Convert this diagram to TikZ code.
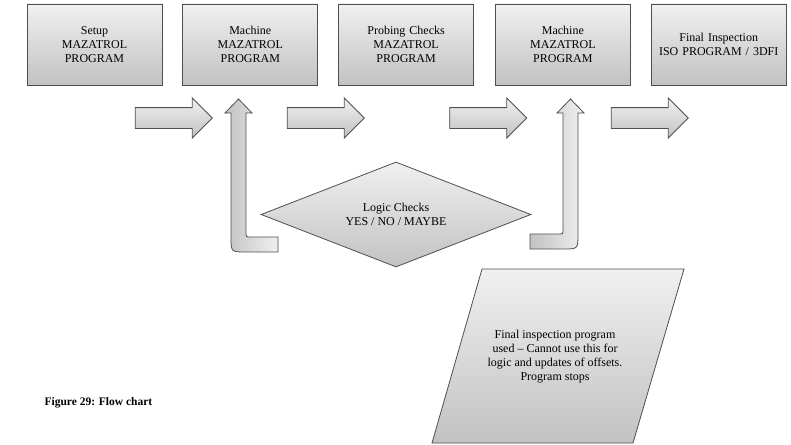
\documentclass[tikz,border=0pt]{standalone}
\usepackage{fontspec}
\setmainfont{Liberation Serif}
\usetikzlibrary{positioning,shapes.geometric,shapes.arrows}
\definecolor{edge}{HTML}{4F4F4F}
\definecolor{shadetop}{HTML}{F0F0F0}
\definecolor{shadebot}{HTML}{C2C2C2}
\tikzset{
  stepbox/.style={rectangle, draw=edge, top color=shadetop, bottom color=shadebot, line width=0.8pt,
                  minimum width=135pt, minimum height=81pt, text width=130pt, align=center,
                  inner sep=2pt, font=\fontsize{12}{14}\selectfont},
  rarrow/.style={single arrow, draw=edge, top color=shadetop, bottom color=shadebot, line width=0.8pt,
                 text height=10pt, text depth=10pt, minimum width=39pt, minimum height=77pt,
                 single arrow head extend=9.5pt, inner sep=0pt},
  uarrow/.style={draw=edge, left color=shadebot, right color=shadetop, line width=0.8pt},
  decision/.style={diamond, aspect=2.6, draw=edge, top color=shadetop, bottom color=shadebot, line width=0.8pt,
                   minimum width=270pt, minimum height=105pt, inner sep=0pt, align=center,
                   font=\fontsize{12}{14}\selectfont},
  ioshape/.style={draw=edge, top color=shadetop, bottom color=shadebot, line width=0.8pt},
  note/.style={align=center, font=\fontsize{12}{14}\selectfont},
  figcap/.style={anchor=west, font=\fontsize{11.5}{14}\selectfont\bfseries},
}
\begin{document}
\begin{tikzpicture}[x=1pt, y=-1pt]
\useasboundingbox (0,0) rectangle (791,444);
% top row of programs
\node[stepbox] (setup) at (94.5,44.5) {Setup\\MAZATROL\\PROGRAM};
\node[stepbox, right=20pt of setup] (mach1) {Machine\\MAZATROL\\PROGRAM};
\node[stepbox, right=20pt of mach1] (probe) {Probing Checks\\MAZATROL\\PROGRAM};
\node[stepbox, right=21pt of probe] (mach2) {Machine\\MAZATROL\\PROGRAM};
\node[stepbox, right=20pt of mach2] (final) {Final Inspection\\ISO PROGRAM / 3DFI};
% block arrows between them
\node[rarrow] (a1) at (168.5,118) {};
\node[rarrow] (a2) at (320.5,118) {};
\node[rarrow] (a3) at (483,118) {};
\node[rarrow] (a4) at (644.5,118) {};
% logic check
\node[decision] (logic) at (396,214.5) {Logic Checks\\YES / NO / MAYBE};
% return arrows from the logic check
\draw[uarrow] (238.5,99) -- (252,113) -- (246,113) -- (246,232) .. controls (246,237) .. (251,237)
  -- (278,237) -- (278,252) -- (246,252) .. controls (231,252) .. (231,237) -- (231,113) -- (225,113) -- cycle;
\draw[uarrow] (570.5,99) -- (584,113) -- (578,113) -- (578,234) .. controls (578,249) .. (563,249)
  -- (530,249) -- (530,234) -- (558,234) .. controls (563,234) .. (563,229) -- (563,113) -- (557,113) -- cycle;
% final inspection note
\draw[ioshape] (432,443) -- (482,269) -- (684,269) -- (633,443) -- cycle;
\node[note] (stops) at (555,357) {Final inspection program\\used -- Cannot use this for\\logic and updates of offsets.\\Program stops};
\node[figcap] (fig) at (41,403) {Figure 29: Flow chart};
\end{tikzpicture}
\end{document}
